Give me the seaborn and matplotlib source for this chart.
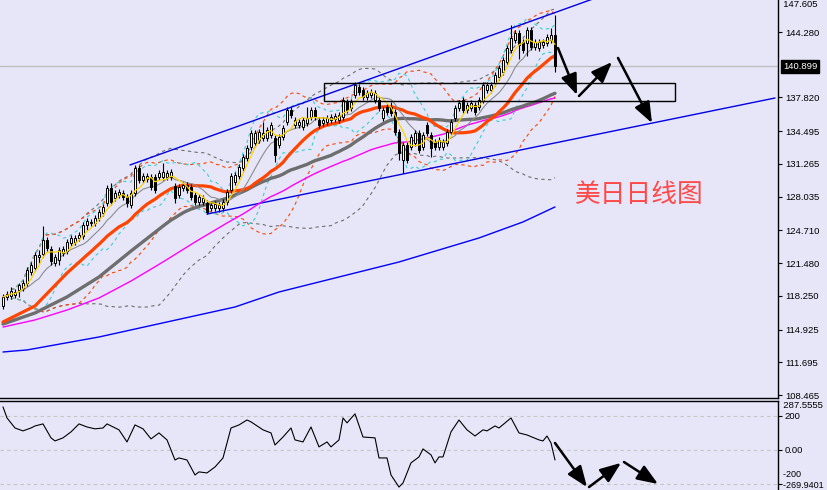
import numpy as np
import pandas as pd
import matplotlib
matplotlib.use("Agg")
import matplotlib.pyplot as plt
import seaborn as sns
from matplotlib.patches import Rectangle

# ---------------- data (daily USD/JPY candles) ----------------
opens = [117.25, 118.14, 118.23, 118.33, 118.83, 119.02, 119.52, 120.60, 121.00, 122.08,
         122.38, 123.76, 122.87, 121.49, 121.79, 122.48, 122.67, 123.46, 123.56, 123.96,
         124.15, 125.24, 125.44, 125.44, 125.93, 126.42, 127.41, 128.89, 127.90, 128.20,
         128.40, 128.00, 127.21, 128.40, 130.86, 129.68, 129.78, 129.98, 129.98, 129.98,
         129.98, 129.98, 129.98, 129.09, 128.20, 128.89, 129.19, 128.99, 128.20, 127.51,
         127.51, 127.41, 126.92, 126.92, 126.92, 126.92, 127.51, 128.69, 129.48, 130.07,
         130.86, 131.85, 132.94, 133.33, 133.63, 133.82, 133.82, 134.12, 133.82, 133.13,
         133.92, 135.40, 136.59, 135.11, 135.11, 134.91, 135.30, 135.90, 136.59, 135.60,
         135.30, 135.40, 135.60, 135.70, 135.60, 135.90, 137.38, 136.78, 138.07, 138.86,
         138.56, 137.87, 138.07, 137.57, 137.57, 135.80, 136.88, 136.88, 136.39, 134.42,
         131.65, 133.13, 132.94, 133.33, 134.32, 132.94, 135.11, 134.12, 133.43, 132.94,
         132.94, 133.33, 134.42, 135.80, 136.78, 137.57, 136.59, 136.78, 137.08, 136.88,
         137.57, 138.56, 138.56, 139.25, 139.84, 140.34, 141.32, 142.51, 143.49, 144.18,
         143.30, 143.20, 144.48, 142.80, 142.70, 143.00, 143.20, 143.49, 143.99]
closes = [118.14, 118.43, 118.73, 118.63, 119.32, 119.52, 120.80, 121.29, 122.28, 122.28,
          123.76, 122.97, 121.69, 122.08, 122.77, 122.87, 123.56, 123.96, 123.96, 124.25,
          125.24, 125.63, 125.54, 125.93, 126.52, 127.02, 128.89, 127.51, 128.40, 128.50,
          128.00, 127.41, 128.40, 130.86, 129.68, 130.07, 130.07, 128.99, 128.69, 130.37,
          130.47, 130.37, 130.47, 127.90, 128.99, 129.19, 128.69, 128.00, 127.51, 128.00,
          127.90, 126.52, 127.21, 127.31, 127.21, 127.51, 128.50, 130.07, 130.17, 130.96,
          131.95, 132.84, 134.32, 134.32, 134.42, 134.32, 134.61, 135.11, 132.15, 133.92,
          134.81, 136.59, 136.09, 135.60, 135.40, 135.60, 135.80, 136.59, 135.90, 135.11,
          135.60, 135.80, 135.90, 135.99, 136.09, 137.57, 136.59, 137.38, 139.05, 138.36,
          137.87, 138.26, 138.36, 138.26, 136.78, 136.59, 136.39, 136.29, 134.42, 132.34,
          133.13, 131.65, 133.92, 134.32, 132.64, 134.12, 134.32, 132.84, 132.94, 133.63,
          133.43, 134.42, 135.40, 136.78, 137.28, 136.59, 137.08, 137.28, 136.39, 137.57,
          139.05, 139.05, 139.05, 140.04, 140.73, 141.52, 142.70, 143.69, 144.18, 143.00,
          142.51, 144.48, 142.80, 143.30, 143.30, 143.30, 143.79, 143.99, 140.90]
highs = [118.43, 118.73, 119.12, 118.93, 119.52, 119.82, 121.10, 121.59, 122.58, 122.78,
         125.14, 124.06, 123.17, 122.38, 123.07, 123.17, 123.86, 124.26, 124.26, 124.55,
         125.54, 125.93, 125.84, 126.23, 126.82, 127.32, 129.19, 129.38, 128.70, 128.80,
         128.70, 128.30, 128.70, 131.16, 131.16, 130.37, 130.37, 130.28, 130.28, 130.67,
         131.36, 130.67, 130.77, 129.39, 129.29, 129.49, 129.49, 129.29, 128.50, 128.30,
         128.20, 127.71, 127.51, 127.61, 127.51, 127.81, 128.80, 130.37, 130.47, 131.26,
         132.25, 133.14, 134.62, 134.62, 134.72, 135.40, 134.91, 135.41, 134.12, 134.22,
         135.11, 136.89, 136.89, 135.90, 135.70, 135.90, 136.88, 136.89, 136.89, 135.90,
         135.90, 136.10, 136.20, 136.29, 136.39, 137.87, 137.68, 137.68, 139.35, 139.16,
         138.86, 138.56, 138.66, 138.56, 137.87, 136.89, 137.18, 137.38, 136.69, 134.72,
         133.43, 133.43, 134.22, 134.62, 134.62, 134.42, 135.41, 134.42, 133.73, 133.93,
         133.73, 134.72, 135.70, 137.08, 137.58, 137.87, 137.38, 137.58, 137.38, 137.87,
         139.35, 139.35, 139.35, 140.34, 141.03, 141.82, 143.00, 144.97, 144.48, 144.48,
         143.60, 144.78, 144.78, 143.60, 143.60, 143.60, 144.09, 144.68, 145.96]
lows = [116.95, 117.84, 117.94, 118.03, 118.14, 118.72, 119.22, 120.30, 120.70, 121.49,
        122.08, 122.67, 121.29, 121.19, 121.29, 122.18, 122.37, 123.16, 123.26, 123.66,
        123.85, 124.74, 125.14, 125.14, 125.63, 126.12, 127.11, 127.21, 127.60, 127.90,
        127.70, 127.02, 126.91, 128.10, 129.38, 129.38, 129.48, 128.69, 128.39, 129.68,
        129.68, 129.68, 129.68, 127.41, 127.90, 128.59, 128.39, 127.70, 127.21, 127.21,
        127.21, 126.32, 126.62, 126.62, 126.52, 126.62, 127.21, 128.39, 129.18, 129.77,
        130.56, 131.55, 132.64, 133.03, 133.33, 133.52, 133.52, 133.82, 131.46, 132.83,
        133.62, 135.10, 135.79, 134.81, 134.81, 134.61, 135.00, 135.60, 135.60, 134.81,
        135.00, 135.10, 135.30, 135.40, 135.30, 135.60, 136.29, 136.48, 137.77, 138.06,
        137.57, 137.57, 137.77, 137.27, 136.48, 135.50, 136.09, 135.99, 134.12, 131.65,
        130.37, 131.35, 132.64, 133.03, 132.34, 132.64, 134.02, 131.95, 132.64, 132.64,
        132.64, 133.03, 134.12, 135.50, 136.48, 136.29, 136.29, 136.48, 136.09, 136.58,
        137.27, 138.26, 138.26, 138.95, 139.54, 140.04, 141.02, 142.21, 143.19, 141.60,
        142.21, 141.90, 142.50, 142.50, 142.40, 142.70, 142.90, 143.19, 140.34]

# start of each moving average before it has enough visible candles
ma20_early_idx = [0, 8, 16]
ma20_early_val = [115.67, 117.25, 120.50]
ma40_early_idx = [0, 8, 16, 24, 32]
ma40_early_val = [115.47, 116.56, 118.14, 120.11, 122.67]
ma60_early_idx = [0, 8, 16, 24, 32, 40, 48, 56]
ma60_early_val = [115.17, 115.87, 116.85, 118.04, 119.71, 121.59, 123.56, 125.44]
ma_blue_idx = [0, 6, 24, 41, 58, 69, 99, 119, 130, 138]
ma_blue_val = [112.71, 112.91, 114.19, 115.67, 117.15, 118.63, 121.59, 123.96, 125.54, 127.02]

# CCI (lower panel)
cci_idx = [0, 1, 3, 5, 7, 8, 10, 12, 13, 15, 17, 19, 21, 23, 25, 26, 29, 31, 33, 35, 37, 39,
           41, 43, 44, 46, 48, 49, 51, 53, 55, 57, 59, 61, 62, 65, 67, 68, 70, 72, 73, 75, 77,
           79, 81, 82, 84, 85, 86, 88, 90, 93, 94, 96, 97, 99, 100, 102, 104, 105, 107, 108,
           109, 110, 112, 114, 116, 118, 120, 121, 123, 124, 127, 129, 131, 134, 135, 136,
           137, 138]
cci_val = [253, 188, 129, 112, 129, 141, 153, 71, 53, 71, 106, 153, 135, 124, 129, 153, 118,
           47, 147, 124, 65, 100, 59, -59, -47, -59, -147, -129, -135, -100, -47, 129, 147,
           176, 165, 118, 100, 29, 76, 129, 59, 47, 135, 18, 47, 18, 59, 188, 159, 212, 76,
           71, -47, -47, -147, -218, -194, -76, -41, 6, -29, -76, -41, -41, 106, 176, 118,
           82, 118, 112, 141, 129, 188, 100, 88, 59, 53, 82, 41, -59]

# price-axis labels
price_ticks = [108.465, 111.695, 114.925, 118.250, 121.480, 124.710, 128.035, 131.265,
               134.495, 137.820, 144.280]
top_price_label = 147.605
last_price = 140.899
cci_ticks = [200, 0, -200]
cci_tick_labels = ['200', '0.00', '-200']
cci_max_label, cci_min_label = 287.5555, -269.9401

# analyst drawings (candle index, price)
upper_tl = ([31.75, 150.0], [131.16, 147.90])
lower_tl = ([51.0, 193.0], [126.32, 137.77])
zone = (80.25, 168.0, 137.47, 139.25)
main_arrows = [((138.75, 142.70), (143.5, 138.07)),
               ((144.0, 137.97), (152.25, 141.32)),
               ((153.75, 141.72), (162.25, 135.30))]
cci_arrows = [((138.0, 41), (146.0, -218)),
              ((146.5, -218), (154.5, -76)),
              ((155.25, -71), (163.75, -200))]
title_text = "美日日线图"

# ---------------- drawing ----------------
sns.set_theme(style="white")
plt.rcParams['font.family'] = ['Liberation Sans', 'DejaVu Sans']

BG = '#E6E6F8'
W, H = 827, 490
fig = plt.figure(figsize=(W / 100, H / 100), dpi=100, facecolor=BG)
ax = fig.add_axes([0, 1 - 398 / H, 778 / W, 398 / H], facecolor=BG)
ax2 = fig.add_axes([0, 0, 778 / W, 89 / H], facecolor=BG)

df = pd.DataFrame({'k': np.arange(len(closes)), 'open': opens, 'high': highs,
                   'low': lows, 'close': closes})
c = df['close']
ma5 = c.rolling(5, min_periods=1).mean()
ma10 = c.rolling(10, min_periods=1).mean()


def sma_line(n, early_idx, early_val):
    m = c.rolling(n).mean()
    xs = list(early_idx) + list(df['k'][n - 1:])
    ys = list(early_val) + list(m[n - 1:])
    return xs, ys


def bands(n):
    m = c.rolling(n, min_periods=3).mean()
    s = c.rolling(n, min_periods=3).std(ddof=0)
    return m + 2 * s, m - 2 * s


dash = (0, (3, 3))
for n, col in [(40, '#6E6E6E'), (20, '#FF4500'), (10, '#3CCFCF')]:
    up_b, lo_b = bands(n)
    ax.plot(df['k'], up_b, color=col, lw=0.8, ls=dash, zorder=1)
    ax.plot(df['k'], lo_b, color=col, lw=0.8, ls=dash, zorder=1)

# trend lines
ax.plot(*upper_tl, color='#0000E6', lw=1.0, zorder=2)
ax.plot(*lower_tl, color='#0000E6', lw=1.0, zorder=2)

# moving averages
sns.lineplot(x=ma_blue_idx, y=ma_blue_val, ax=ax, color='#0000FF', lw=1.0, zorder=2)
x60, y60 = sma_line(60, ma60_early_idx, ma60_early_val)
sns.lineplot(x=x60, y=y60, ax=ax, color='#FF00FF', lw=1.0, zorder=2, sort=False)
x40, y40 = sma_line(40, ma40_early_idx, ma40_early_val)
sns.lineplot(x=x40, y=y40, ax=ax, color='#6E6E6E', lw=2.4, zorder=2, sort=False)
x20, y20 = sma_line(20, ma20_early_idx, ma20_early_val)
sns.lineplot(x=x20, y=y20, ax=ax, color='#FF4500', lw=2.3, zorder=2, sort=False)
sns.lineplot(x=df['k'], y=ma10, ax=ax, color='#8C8C8C', lw=0.8, zorder=2)

# candles
up = df['close'] >= df['open']
ax.vlines(df['k'], df['low'], df['high'], color='black', lw=0.8, zorder=3)
body_lo = np.minimum(df['open'], df['close'])
body_h = np.maximum(np.abs(df['close'] - df['open']), 0.06)
ax.bar(df['k'], body_h, bottom=body_lo, width=0.72,
       color=np.where(up, 'white', 'black'), edgecolor='black', lw=0.7, zorder=4)

sns.lineplot(x=df['k'], y=ma5, ax=ax, color='#FFD200', lw=0.9, zorder=5)

# last-price line and zone
ax.axhline(last_price, color='#BEBEBE', lw=1.0, zorder=0.5)
ax.add_patch(Rectangle((zone[0], zone[2]), zone[1] - zone[0], zone[3] - zone[2],
                       fill=False, ec='black', lw=1.0, zorder=6))

arrow_props = dict(arrowstyle='-|>,head_length=0.9,head_width=0.35', color='black',
                   lw=1.8, mutation_scale=14, shrinkA=0, shrinkB=0)
for (x0, y0), (x1, y1) in main_arrows:
    ax.annotate('', xy=(x1, y1), xytext=(x0, y0), arrowprops=arrow_props, zorder=7)

ax.text(159.1, 128.2, title_text, color='#FF4848', fontsize=18.5,
        family=['Noto Sans CJK SC', 'DejaVu Sans'], ha='center', va='center', zorder=7)

ax.set_xlim(-0.75, 193.75)
ax.set_ylim(147.44 - 0.09867 * 398, 147.44)
ax.set_xticks([])
ax.yaxis.tick_right()
ax.set_yticks(price_ticks)
ax.set_yticklabels([f"{v:.3f}" for v in price_ticks])
ax.tick_params(axis='y', direction='out', length=3, width=0.8, pad=2,
               labelsize=6.8, colors='black', right=True, left=False)
ax.set_xlabel('')
ax.set_ylabel('')
for s in ['top', 'left']:
    ax.spines[s].set_visible(False)
for s in ['right', 'bottom']:
    ax.spines[s].set_color('black')
    ax.spines[s].set_linewidth(1.0)
    ax.spines[s].set_visible(True)

ax.text(1.0, 1.0, f"  {top_price_label:.3f}", transform=ax.transAxes, ha='left', va='top',
        fontsize=6.8, color='black', clip_on=False)
ax.annotate(f"{last_price:.3f}", xy=(1, last_price), xycoords=('axes fraction', 'data'),
            xytext=(5, 0), textcoords='offset pixels', ha='left', va='center',
            fontsize=6.8, color='white', annotation_clip=False,
            bbox=dict(boxstyle='square,pad=0.2', fc='black', ec='black'))

# ---------------- lower panel: CCI ----------------
for v in cci_ticks:
    ax2.axhline(v, color='#C4C4C4', lw=0.8, ls=dash, zorder=0)
sns.lineplot(x=cci_idx, y=cci_val, ax=ax2, color='black', lw=0.8, zorder=2)
for (x0, y0), (x1, y1) in cci_arrows:
    ax2.annotate('', xy=(x1, y1), xytext=(x0, y0), arrowprops=arrow_props, zorder=7)
ax2.set_xlim(-0.75, 193.75)
ax2.set_ylim(-235.3, cci_max_label)
ax2.set_xticks([])
ax2.yaxis.tick_right()
ax2.set_yticks(cci_ticks)
ax2.set_yticklabels(cci_tick_labels[:2] + [''])
ax2.tick_params(axis='y', direction='out', length=3, width=0.8, pad=2,
                labelsize=6.8, colors='black', right=True, left=False)
ax2.set_xlabel('')
ax2.set_ylabel('')
for s in ['bottom', 'left']:
    ax2.spines[s].set_visible(False)
for s in ['right', 'top']:
    ax2.spines[s].set_color('black')
    ax2.spines[s].set_linewidth(1.0)
    ax2.spines[s].set_visible(True)
ax2.text(1.0, 1.0, f"  {cci_max_label:.4f}", transform=ax2.transAxes, ha='left', va='top',
         fontsize=6.8, color='black', clip_on=False)
# the -200 label sits just above the panel-minimum label (they crowd the bottom edge)
ax2.text(1.0, 0.125, f"  {cci_tick_labels[2]}", transform=ax2.transAxes, ha='left',
         va='bottom', fontsize=6.5, color='black', clip_on=False)
ax2.text(1.0, 0.0, f"  {cci_min_label:.4f}", transform=ax2.transAxes, ha='left',
         va='bottom', fontsize=6.5, color='black', clip_on=False)

fig.savefig('out.png', dpi=100, facecolor=BG)
